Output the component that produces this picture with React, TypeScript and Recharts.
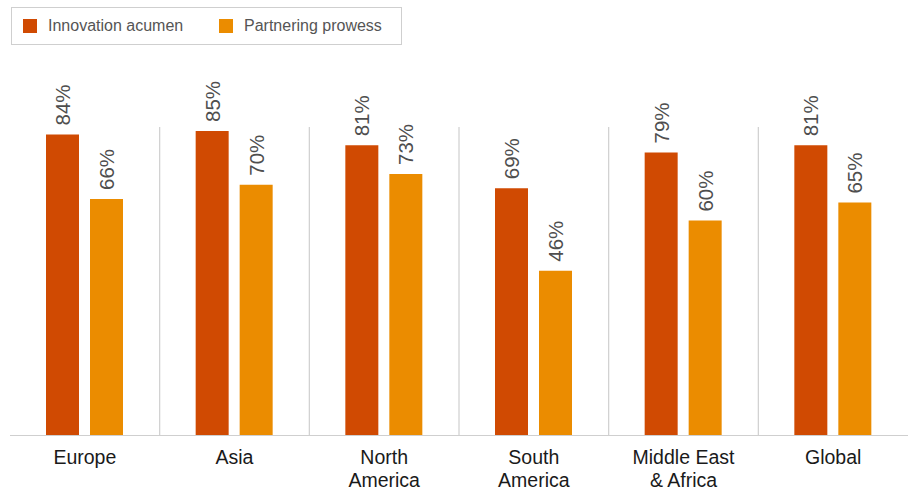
import React from "react";
import { BarChart, Bar, XAxis, YAxis, CartesianGrid, Legend, LabelList } from "recharts";

const categories = ["Europe", "Asia", "North America", "South America", "Middle East & Africa", "Global"];
const tickLabels = [["Europe"], ["Asia"], ["North", "America"], ["South", "America"], ["Middle East", "& Africa"], ["Global"]];
const innovationAcumen = [84, 85, 81, 69, 79, 81];
const partneringProwess = [66, 70, 73, 46, 60, 65];

const seriesNames = ["Innovation acumen", "Partnering prowess"];
const colors = ["#D04A02", "#EB8C00"];

const data = categories.map((c, i) => ({
  name: c,
  innovation: innovationAcumen[i],
  partnering: partneringProwess[i],
}));

const FONT = "'Liberation Sans', Arial, Helvetica, sans-serif";

const CategoryTick = (props: any) => {
  const { x, y, index } = props;
  const lines = tickLabels[index] || [String(props.payload?.value ?? "")];
  return (
    <g>
      {lines.map((ln: string, i: number) => (
        <text
          key={i}
          x={x}
          y={y + 28.5 + i * 23}
          textAnchor="middle"
          fontSize={19.5}
          fill="#1a1a1a"
          fontFamily={FONT}
        >
          {ln}
        </text>
      ))}
    </g>
  );
};

const RotatedLabel = (props: any) => {
  const { x, y, width, value } = props;
  const cx = Number(x) + Number(width) / 2;
  const cy = Number(y) - 9;
  return (
    <text
      x={cx}
      y={cy}
      dy="0.36em"
      transform={`rotate(-90 ${cx} ${cy})`}
      textAnchor="start"
      fontSize={20.5}
      fill="#4e4e4e"
      fontFamily={FONT}
    >
      {`${value}%`}
    </text>
  );
};

const LegendBox = (props: any) => {
  const payload = props.payload || [];
  const itemLefts = [11, 207];
  return (
    <div
      style={{
        position: "relative",
        width: 391,
        height: 38,
        border: "1px solid #cfcfcf",
        boxSizing: "border-box",
        fontFamily: FONT,
      }}
    >
      {payload.map((p: any, i: number) => (
        <div
          key={i}
          style={{
            position: "absolute",
            left: itemLefts[i] ?? 11 + i * 196,
            top: 0,
            height: 36,
            display: "flex",
            alignItems: "center",
          }}
        >
          <span style={{ display: "inline-block", width: 14, height: 14, background: p.color, marginRight: 11 }} />
          <span style={{ fontSize: 16, color: "#555555", lineHeight: "16px" }}>{p.value}</span>
        </div>
      ))}
    </div>
  );
};

export default function App() {
  return (
    <div style={{ position: "absolute", left: 0, top: 0, width: 914, height: 491, fontFamily: FONT, background: "#ffffff" }}>
      <BarChart
        width={914}
        height={491}
        data={data}
        margin={{ top: 127, right: 6, bottom: 0, left: 10 }}
        barSize={33}
        barGap={11}
      >
        <CartesianGrid
          horizontal={false}
          vertical={true}
          stroke="#cfcfcf"
          strokeWidth={1.2}
          verticalCoordinatesGenerator={({ offset }: any) => {
            const step = offset.width / categories.length;
            const out: number[] = [];
            for (let i = 1; i < categories.length; i++) out.push(offset.left + step * i);
            return out;
          }}
        />
        <XAxis
          dataKey="name"
          height={55.5}
          axisLine={{ stroke: "#cfcfcf", strokeWidth: 1.2 }}
          tickLine={false}
          tickSize={0}
          tickMargin={0}
          interval={0}
          tick={<CategoryTick />}
        />
        <YAxis hide domain={[0, 86.1]} allowDataOverflow />
        <Legend
          layout="horizontal"
          verticalAlign="middle"
          align="center"
          wrapperStyle={{ top: 7, left: 11, width: 391, height: 38 }}
          content={<LegendBox />}
        />
        <Bar dataKey="innovation" name={seriesNames[0]} fill={colors[0]} isAnimationActive={false}>
          <LabelList dataKey="innovation" content={<RotatedLabel />} />
        </Bar>
        <Bar dataKey="partnering" name={seriesNames[1]} fill={colors[1]} isAnimationActive={false}>
          <LabelList dataKey="partnering" content={<RotatedLabel />} />
        </Bar>
      </BarChart>
    </div>
  );
}
